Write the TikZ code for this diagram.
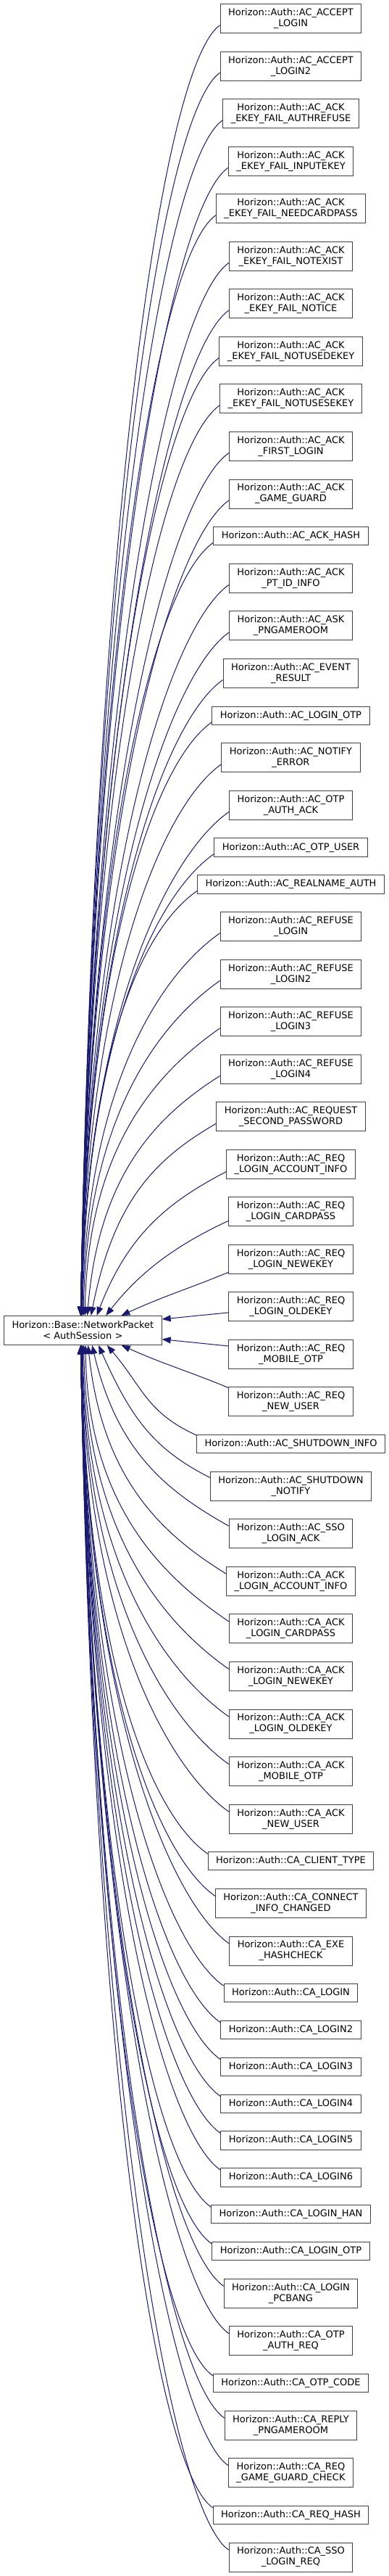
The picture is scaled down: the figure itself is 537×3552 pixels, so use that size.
\documentclass[tikz,border=0pt]{standalone}
\usepackage{fontspec}
\setmainfont{DejaVu Sans}
\usetikzlibrary{arrows.meta}
\definecolor{edgeblue}{RGB}{25,25,112}
\definecolor{boxgray}{RGB}{64,64,64}
\tikzset{
  cls/.style={draw=boxgray, line width=1pt, fill=white, align=center,
    inner xsep=11pt, inner ysep=0pt, font=\fontsize{13}{15}\selectfont},
  edge/.style={draw=edgeblue, line width=1pt, -{Triangle[length=12pt,width=9pt]}}
}
\begin{document}
\begin{tikzpicture}[x=1pt,y=1pt]
\fill[white] (0,0) rectangle (537,-3552);
\useasboundingbox (0,0) rectangle (537,-3552);
\node[cls, minimum height=40, anchor=west] (base) at (5,-1834.5) {Horizon::Base::NetworkPacket\\\textless{} AuthSession \textgreater};
\foreach \ki/\cy/\hh/\sd/\lbl in {
1/25.7/40/u/{Horizon::Auth::AC\_ACCEPT\\\_LOGIN},
2/91.235/40/u/{Horizon::Auth::AC\_ACCEPT\\\_LOGIN2},
3/156.77/40/u/{Horizon::Auth::AC\_ACK\\\_EKEY\_FAIL\_AUTHREFUSE},
4/222.305/40/u/{Horizon::Auth::AC\_ACK\\\_EKEY\_FAIL\_INPUTEKEY},
5/287.84/40/u/{Horizon::Auth::AC\_ACK\\\_EKEY\_FAIL\_NEEDCARDPASS},
6/353.375/40/u/{Horizon::Auth::AC\_ACK\\\_EKEY\_FAIL\_NOTEXIST},
7/418.91/40/u/{Horizon::Auth::AC\_ACK\\\_EKEY\_FAIL\_NOTICE},
8/484.445/40/u/{Horizon::Auth::AC\_ACK\\\_EKEY\_FAIL\_NOTUSEDEKEY},
9/549.98/40/u/{Horizon::Auth::AC\_ACK\\\_EKEY\_FAIL\_NOTUSESEKEY},
10/615.515/40/u/{Horizon::Auth::AC\_ACK\\\_FIRST\_LOGIN},
11/681.05/40/u/{Horizon::Auth::AC\_ACK\\\_GAME\_GUARD},
12/739.235/25.3/u/{Horizon::Auth::AC\_ACK\_HASH},
13/797.42/40/u/{Horizon::Auth::AC\_ACK\\\_PT\_ID\_INFO},
14/862.955/40/u/{Horizon::Auth::AC\_ASK\\\_PNGAMEROOM},
15/928.49/40/u/{Horizon::Auth::AC\_EVENT\\\_RESULT},
16/986.675/25.3/u/{Horizon::Auth::AC\_LOGIN\_OTP},
17/1044.86/40/u/{Horizon::Auth::AC\_NOTIFY\\\_ERROR},
18/1110.395/40/u/{Horizon::Auth::AC\_OTP\\\_AUTH\_ACK},
19/1168.58/25.3/u/{Horizon::Auth::AC\_OTP\_USER},
20/1219.415/25.3/u/{Horizon::Auth::AC\_REALNAME\_AUTH},
21/1277.6/40/u/{Horizon::Auth::AC\_REFUSE\\\_LOGIN},
22/1343.135/40/u/{Horizon::Auth::AC\_REFUSE\\\_LOGIN2},
23/1408.67/40/u/{Horizon::Auth::AC\_REFUSE\\\_LOGIN3},
24/1474.205/40/u/{Horizon::Auth::AC\_REFUSE\\\_LOGIN4},
25/1539.74/40/u/{Horizon::Auth::AC\_REQUEST\\\_SECOND\_PASSWORD},
26/1605.275/40/u/{Horizon::Auth::AC\_REQ\\\_LOGIN\_ACCOUNT\_INFO},
27/1670.81/40/u/{Horizon::Auth::AC\_REQ\\\_LOGIN\_CARDPASS},
28/1736.345/40/u/{Horizon::Auth::AC\_REQ\\\_LOGIN\_NEWEKEY},
29/1801.88/40/e/{Horizon::Auth::AC\_REQ\\\_LOGIN\_OLDEKEY},
30/1867.415/40/e/{Horizon::Auth::AC\_REQ\\\_MOBILE\_OTP},
31/1932.95/40/d/{Horizon::Auth::AC\_REQ\\\_NEW\_USER},
32/1991.135/25.3/d/{Horizon::Auth::AC\_SHUTDOWN\_INFO},
33/2049.32/40/d/{Horizon::Auth::AC\_SHUTDOWN\\\_NOTIFY},
34/2114.855/40/d/{Horizon::Auth::AC\_SSO\\\_LOGIN\_ACK},
35/2180.39/40/d/{Horizon::Auth::CA\_ACK\\\_LOGIN\_ACCOUNT\_INFO},
36/2245.925/40/d/{Horizon::Auth::CA\_ACK\\\_LOGIN\_CARDPASS},
37/2311.46/40/d/{Horizon::Auth::CA\_ACK\\\_LOGIN\_NEWEKEY},
38/2376.995/40/d/{Horizon::Auth::CA\_ACK\\\_LOGIN\_OLDEKEY},
39/2442.53/40/d/{Horizon::Auth::CA\_ACK\\\_MOBILE\_OTP},
40/2508.065/40/d/{Horizon::Auth::CA\_ACK\\\_NEW\_USER},
41/2566.25/25.3/d/{Horizon::Auth::CA\_CLIENT\_TYPE},
42/2624.435/40/d/{Horizon::Auth::CA\_CONNECT\\\_INFO\_CHANGED},
43/2689.97/40/d/{Horizon::Auth::CA\_EXE\\\_HASHCHECK},
44/2748.155/25.3/d/{Horizon::Auth::CA\_LOGIN},
45/2798.99/25.3/d/{Horizon::Auth::CA\_LOGIN2},
46/2849.825/25.3/d/{Horizon::Auth::CA\_LOGIN3},
47/2900.66/25.3/d/{Horizon::Auth::CA\_LOGIN4},
48/2951.495/25.3/d/{Horizon::Auth::CA\_LOGIN5},
49/3002.33/25.3/d/{Horizon::Auth::CA\_LOGIN6},
50/3053.165/25.3/d/{Horizon::Auth::CA\_LOGIN\_HAN},
51/3104.0/25.3/d/{Horizon::Auth::CA\_LOGIN\_OTP},
52/3162.185/40/d/{Horizon::Auth::CA\_LOGIN\\\_PCBANG},
53/3227.72/40/d/{Horizon::Auth::CA\_OTP\\\_AUTH\_REQ},
54/3285.905/25.3/d/{Horizon::Auth::CA\_OTP\_CODE},
55/3344.09/40/d/{Horizon::Auth::CA\_REPLY\\\_PNGAMEROOM},
56/3409.625/40/d/{Horizon::Auth::CA\_REQ\\\_GAME\_GUARD\_CHECK},
57/3467.81/25.3/d/{Horizon::Auth::CA\_REQ\_HASH},
58/3525.995/40/d/{Horizon::Auth::CA\_SSO\\\_LOGIN\_REQ}}{
  \node[cls, minimum height=\hh] (n\ki) at (401.5,-\cy) {\lbl};
  \if\sd u
    \pgfmathsetmacro\ddd{1814.5-\cy}
    \pgfmathsetmacro\offs{min(\hh/2-1, 9+9*exp(max(-8,-(\ddd-78)/70)))}
    \pgfmathsetmacro\dyy{\ddd-\offs}
    \pgfmathsetmacro\xend{112+56*exp(max(-8,-(\dyy-60)/150))-115}
    \pgfmathsetmacro\tha{20+15*min(1,\dyy/400)}
    \pgfmathsetmacro\Ltt{10*sqrt(361+(min(\dyy,400)/10)^2)/3}
    \pgfmathsetmacro\dou{min(100,\Ltt)}
    \pgfmathsetmacro\dinn{max(\Ltt,0.6*\dyy)}
    \pgfmathsetmacro\alp{min(89,atan(\dyy/150)*(1+0.3*min(1,\dyy/150)))}
    \draw[edge] ([yshift=-\offs]n\ki.west) .. controls +({-\dou*cos(\tha)},{-\dou*sin(\tha)}) and +({\dinn*cos(\alp)},{\dinn*sin(\alp)}) .. ([xshift=\xend]base.north);
  \fi
  \if\sd d
    \pgfmathsetmacro\ddd{\cy-1854.5}
    \pgfmathsetmacro\offs{min(\hh/2-0.5, 10+10*exp(max(-8,-(\ddd-78)/70)))}
    \pgfmathsetmacro\dyy{\ddd-\offs}
    \pgfmathsetmacro\xend{112+56*exp(max(-8,-(\dyy-60)/150))-115}
    \pgfmathsetmacro\tha{20+15*min(1,\dyy/400)}
    \pgfmathsetmacro\Ltt{10*sqrt(361+(min(\dyy,400)/10)^2)/3}
    \pgfmathsetmacro\dou{min(100,\Ltt)}
    \pgfmathsetmacro\dinn{max(\Ltt,0.6*\dyy)}
    \pgfmathsetmacro\alp{min(89,atan(\dyy/150)*(1+0.3*min(1,\dyy/150)))}
    \draw[edge] ([yshift=\offs]n\ki.west) .. controls +({-\dou*cos(\tha)},{\dou*sin(\tha)}) and +({\dinn*cos(\alp)},{-\dinn*sin(\alp)}) .. ([xshift=\xend]base.south);
  \fi
}
\draw[edge] ([yshift=-8]n29.west) -- ([yshift=15.5]base.east);
\draw[edge] ([yshift=11.4]n30.west) -- ([yshift=-12.2]base.east);
\end{tikzpicture}
\end{document}
